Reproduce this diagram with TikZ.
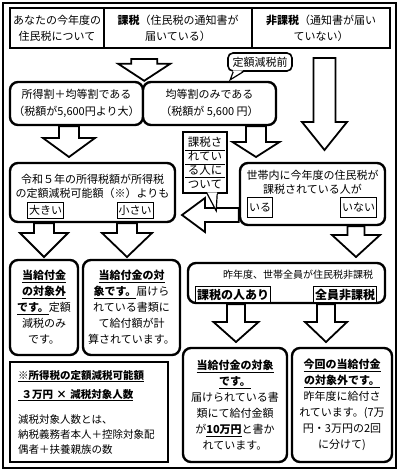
\documentclass[tikz,border=0pt]{standalone}
\usepackage{fontspec}
\setmainfont{Noto Sans CJK JP}
\usetikzlibrary{calc,positioning}

% block arrow pointing down: tail, tip, half shaft, half head, head length
\newcommand{\flowdown}[5]{%
  \draw[blk] let \p1=#1, \p2=#2 in
    (\p2) -- ++(-#4,-#5) -- ++({#4-#3},0) -- (\x2-#3pt,\y1) -- (\x2+#3pt,\y1)
    -- (\x2+#3pt,\y2+#5pt) -- ++({#4-#3},0) -- cycle;}
\newcommand{\bul}[1]{\underline{\textbf{#1}}}

\begin{document}
\begin{tikzpicture}
  [x=1pt,y=-1pt,
   every node/.style={font=\fontsize{11}{16}\selectfont,align=center,inner sep=0pt},
   cell/.style={draw,line width=1.8pt,minimum height=40},
   rbox/.style={draw,line width=2.4pt,rounded corners=8pt,fill=white},
   tag/.style={draw,line width=.8pt,fill=white,inner xsep=1.5pt,minimum height=16},
   blk/.style={draw,line width=1.8pt,fill=white}]
  \useasboundingbox (0,0) rectangle (400,474);
  \draw[line width=1.8pt] (3,3) rectangle (396,468);

  % header row
  \node[cell,minimum width=94] (c1) at (57,28) {あなたの今年度の\\住民税について};
  \node[cell,minimum width=148] (c2) at (178,28) {\textbf{課税}（住民税の通知書が\\届いている）};
  \node[cell,minimum width=138] (c3) at (321,28) {\textbf{非課税}（通知書が届い\\ていない）};

  % boxes
  \node[rbox,minimum width=133,minimum height=43,font=\fontsize{11}{17}\selectfont] (boxA) at (76.5,103.5) {所得割＋均等割である\\（税額が5,600円より大）};
  \node[rbox,minimum width=133,minimum height=43,font=\fontsize{11}{17}\selectfont] (boxB) at (209.5,103.5) {均等割のみである\\（税額が 5,600 円）};

  \node[rbox,minimum width=165,minimum height=59] (boxC) at (92.5,192.5) {};
  \node[font=\fontsize{11}{13.5}\selectfont] (qC) at (92.5,186.5) {令和５年の所得税額が所得税\\の定額減税可能額（※）よりも};
  \node[tag] (big) at (45.5,210.5) {大きい};
  \node[tag] (small) at (135,210.5) {小さい};

  \node[rbox,minimum width=145,minimum height=62] (boxD) at (312.5,194) {};
  \node[font=\fontsize{11}{14}\selectfont] (qD) at (312.5,182) {世帯内に今年度の住民税が\\課税されている人が};
  \node[tag,minimum height=20] (yes) at (260,207.5) {いる};
  \node[tag,minimum height=20] (no) at (358.5,207.5) {いない};

  \node[rbox,minimum width=68,minimum height=95] (boxE) at (44,307.5) {\bul{当給付金}\\\bul{の対象外}\\\bul{です。}定額\\減税のみ\\です。};
  \node[rbox,minimum width=97,minimum height=95] (boxF) at (131.5,307.5) {\bul{当給付金の対}\\\bul{象です。}届けら\\れている書類に\\て給付額が計\\算されています。};

  \node[rbox,minimum width=197,minimum height=40] (boxG) at (286.5,283) {};
  \node[font=\fontsize{10}{12}\selectfont] (qG) at (298,275) {昨年度、世帯全員が住民税非課税};
  \node[tag,font=\fontsize{12}{14}\selectfont\bfseries] (some) at (233,294.5) {課税の人あり};
  \node[tag,font=\fontsize{12}{14}\selectfont\bfseries] (none) at (345,294.5) {全員非課税};

  \node[rbox,minimum width=104,minimum height=114] (boxH) at (235,405) {\bul{当給付金の対象}\\\bul{です。}\\届けられている書\\類にて給付金額\\が\bul{10万円}と書か\\れています。};
  \node[rbox,minimum width=100,minimum height=114] (boxI) at (342,405) {\bul{今回の当給付金}\\\bul{の対象外です。}\\昨年度に給付さ\\れています。(7万\\円・3万円の2回\\に分けて)};

  \node[draw,line width=1.2pt,minimum height=100,text width=142,align=left,inner xsep=8pt,
        font=\fontsize{10.5}{15}\selectfont] (note) at (89,412)
    {\bul{※所得税の定額減税可能額}\\[4pt]\bul{\ ３万円 × 減税対象人数}\\[10pt]減税対象人数とは、\\納税義務者本人＋控除対象配\\偶者＋扶養親族の数};

  % arrow tips
  \coordinate (t2) at (69,157);
  \coordinate (t3) at (256,157);
  \coordinate (t4) at (324.5,150);
  \coordinate (t5) at (44,257);
  \coordinate (t6) at (127,257);
  \coordinate (t7) at (356,257);
  \coordinate (t8) at (236,342);
  \coordinate (t9) at (326,342);
  \coordinate (t10) at (182,215);

  \flowdown{($(c2.south)+(0,10)$)}{(boxA.north east)}{13}{26}{17}
  \flowdown{($(c3.south)+(0,9)$)}{(t4)}{11}{22.5}{28}
  \flowdown{(boxA.south)}{(t2)}{10}{26}{19}
  \flowdown{(boxB.south)}{(t3)}{10}{23.5}{15}
  \flowdown{(boxC.south)}{(t5)}{10}{24}{24}
  \flowdown{(boxC.south)}{(t6)}{10}{25}{24}
  \flowdown{(boxD.south)}{(t7)}{8.5}{24}{22}
  \flowdown{(boxG.south)}{(t8)}{9}{22.5}{20}
  \flowdown{(boxG.south)}{(t9)}{9}{21}{20}
  \draw[blk] let \p1=(boxD.west), \p2=(t10) in
    (\p2) -- ++(23,-17) -- ++(0,10) -- (\x1,\y2+7pt) -- (\x1,\y2-7pt)
    -- (\x2+23pt,\y2-7pt) -- ++(0,10) -- cycle;

  % callouts
  \node[draw,line width=1.6pt,rounded corners=5pt,fill=white,minimum width=64,minimum height=18] (pre) at (260,62) {定額減税前};
  \fill[white] ($(pre.south west)+(6,-1.5)$) -- ($(pre.south west)+(3,8)$) -- ($(pre.south west)+(16,-1.5)$) -- cycle;
  \draw[line width=1.2pt] ($(pre.south west)+(6,0)$) -- ($(pre.south west)+(3,8)$) -- ($(pre.south west)+(16,0)$);

  \node[draw,line width=1.6pt,fill=white,minimum width=44,minimum height=61,font=\fontsize{11.5}{14}\selectfont] (ask) at (205,162.5) {課税さ\\れてい\\る人に\\ついて};
  \foreach \d in {19.5,33,46.5}
    \draw[line width=.7pt] ($(ask.north west)+(3,\d)$) -- ($(ask.north east)+(-3,\d)$);
  \fill[white] ($(ask.south west)+(25,-1.5)$) -- ($(ask.south west)+(34,17)$) -- ($(ask.south west)+(35,-1.5)$) -- cycle;
  \draw[line width=1.2pt] ($(ask.south west)+(25,0)$) -- ($(ask.south west)+(34,17)$) -- ($(ask.south west)+(35,0)$);
\end{tikzpicture}
\end{document}
